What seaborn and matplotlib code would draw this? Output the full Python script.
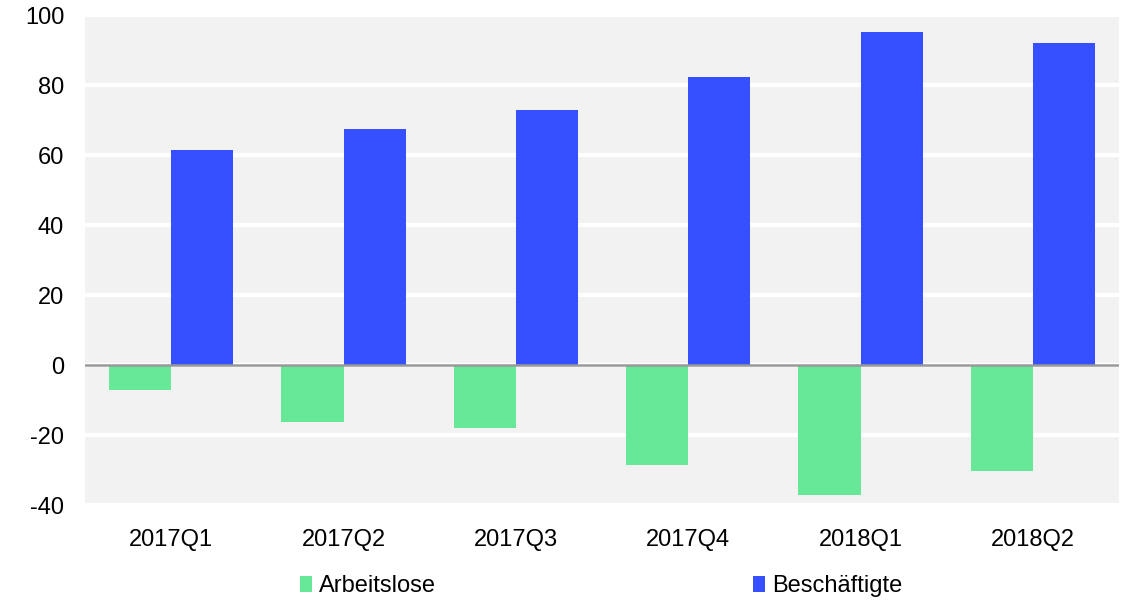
import matplotlib
matplotlib.use("Agg")
import matplotlib.pyplot as plt
import seaborn as sns
import pandas as pd
from matplotlib.patches import Patch

quarters = ["2017Q1", "2017Q2", "2017Q3", "2017Q4", "2018Q1", "2018Q2"]
arbeitslose = [-7.1, -16.3, -18.0, -28.6, -37.1, -30.2]
beschaeftigte = [61.4, 67.4, 72.9, 82.3, 95.1, 91.9]
series_names = ["Arbeitslose", "Beschäftigte"]
colors = ["#67E899", "#364FFF"]
yticks = [-40, -20, 0, 20, 40, 60, 80, 100]

df = pd.DataFrame({
    "Quartal": quarters * 2,
    "Wert": arbeitslose + beschaeftigte,
    "Reihe": [series_names[0]] * len(quarters) + [series_names[1]] * len(quarters),
})

sns.set_theme(style="white")
plt.rcParams["font.family"] = ["Liberation Sans", "DejaVu Sans"]
plt.rcParams["text.color"] = "black"

fig = plt.figure(figsize=(11.26, 6.08), dpi=100)
ax = fig.add_axes([0.0755, 0.1694, 0.9183, 0.8059])
ax.set_facecolor("#F2F2F2")

sns.barplot(data=df, x="Quartal", y="Wert", hue="Reihe", palette=colors,
            width=0.72, linewidth=0, saturation=1, ax=ax, legend=False)

ax.set_ylim(-40, 100)
ax.set_xlim(-0.5, len(quarters) - 0.5)
ax.set_yticks(yticks)
ax.set_yticklabels([str(t) for t in yticks])
ax.yaxis.grid(True, color="white", linewidth=3)
ax.set_axisbelow(True)
ax.axhline(0, color="#999999", linewidth=1.8, zorder=3)
for s in ax.spines.values():
    s.set_visible(False)
ax.set_xlabel("")
ax.set_ylabel("")
ax.tick_params(axis="both", length=0, labelsize=17, labelcolor="black")
ax.tick_params(axis="y", pad=15)
ax.tick_params(axis="x", pad=17)

handles = [Patch(facecolor=c, edgecolor="none") for c in colors]
fig.legend(handles, series_names, loc="center", bbox_to_anchor=(0.5337, 0.036),
           ncol=2, frameon=False, fontsize=17, handlelength=0.5, handleheight=0.7,
           handletextpad=0.3, columnspacing=13.43, labelcolor="black")

fig.savefig("out.png", dpi=100)
